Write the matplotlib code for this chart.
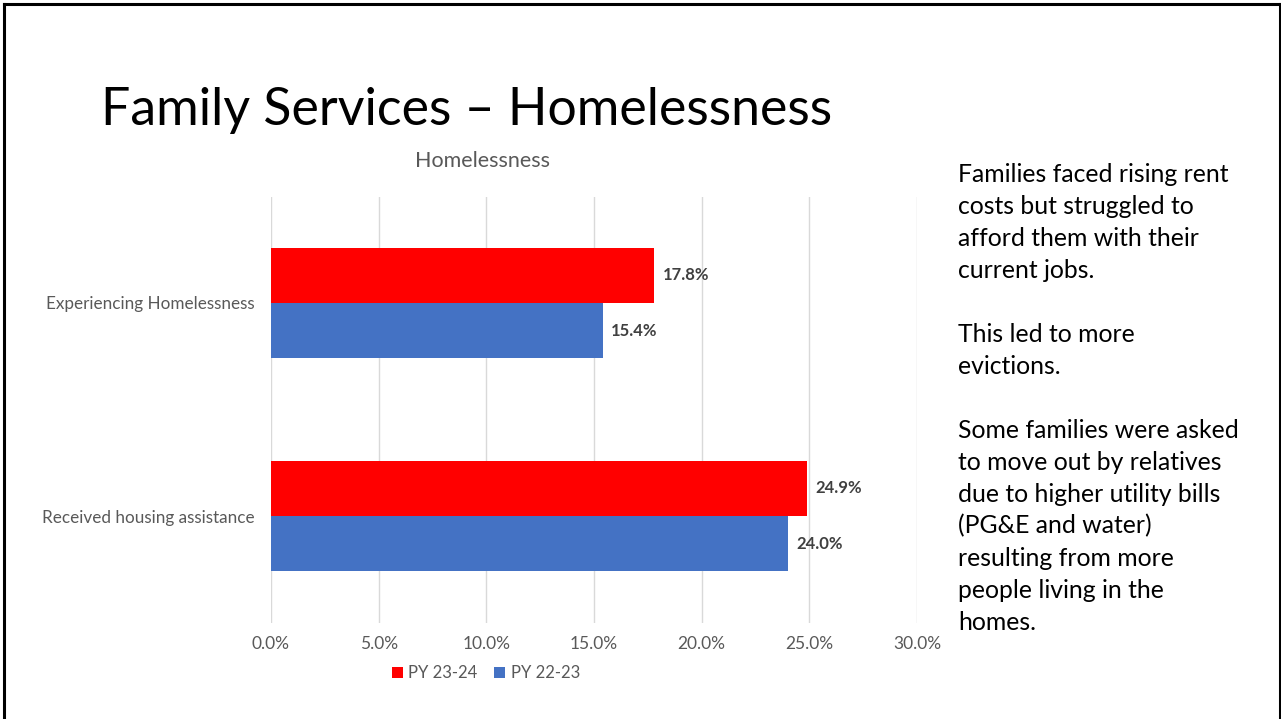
import matplotlib
matplotlib.use("Agg")
import matplotlib.pyplot as plt
from matplotlib.lines import Line2D
from matplotlib.patches import Patch
import numpy as np

categories = ["Received housing assistance", "Experiencing Homelessness"]
series_names = ["PY 23-24", "PY 22-23"]
py_23_24 = [24.9, 17.8]
py_22_23 = [24.0, 15.4]
xticks = [0, 5, 10, 15, 20, 25, 30]
colors = ["#FF0000", "#4472C4"]

slide_title = "Family Services \u2013 Homelessness"
chart_title = "Homelessness"
side_lines = [
    "Families faced rising rent",
    "costs but struggled to",
    "afford them with their",
    "current jobs.",
    "",
    "This led to more",
    "evictions.",
    "",
    "Some families were asked",
    "to move out by relatives",
    "due to higher utility bills",
    "(PG&E and water)",
    "resulting from more",
    "people living in the",
    "homes.",
]

plt.rcParams['font.family'] = ['Lato', 'DejaVu Sans']

W, H = 1281, 719
fig = plt.figure(figsize=(W / 100, H / 100), dpi=100)
fig.patch.set_facecolor("white")

def fx(px):
    return px / W

def fy(py):
    return 1 - py / H

# slide border
fig.add_artist(Line2D([fx(4), fx(4)], [fy(4), 0], transform=fig.transFigure, color="black", lw=2.2))
fig.add_artist(Line2D([fx(4), fx(1279.5)], [fy(4), fy(4)], transform=fig.transFigure, color="black", lw=2.2))
fig.add_artist(Line2D([fx(1279.5), fx(1279.5)], [fy(4), 0], transform=fig.transFigure, color="black", lw=2.2))

ax = fig.add_axes([fx(271), fy(622.5), fx(917) - fx(271), fy(196.5) - fy(622.5)])

y = np.arange(len(categories))
h = 0.26
bars1 = ax.barh(y + h / 2, py_23_24, height=h, color=colors[0], zorder=3)
bars2 = ax.barh(y - h / 2, py_22_23, height=h, color=colors[1], zorder=3)

for bars, vals in ((bars1, py_23_24), (bars2, py_22_23)):
    for b, v in zip(bars, vals):
        ax.annotate(f"{v:.1f}%", (v, b.get_y() + b.get_height() / 2),
                    xytext=(6, 0), textcoords="offset points", ha="left", va="center",
                    fontsize=12, fontweight="bold", color="#404040")

ax.set_xlim(0, 30)
ax.set_ylim(-0.5, 1.5)
ax.set_xticks(xticks)
ax.set_xticklabels([f"{t:.1f}%" for t in xticks], fontsize=12.5, color="#595959")
ax.set_yticks(y)
ax.set_yticklabels(categories, fontsize=12.3, color="#595959")
ax.tick_params(axis="both", length=0)
ax.tick_params(axis="x", pad=10)
ax.tick_params(axis="y", pad=12)
for s in ax.spines.values():
    s.set_visible(False)
ax.grid(axis="x", color="#D9D9D9", lw=1, zorder=0)
ax.set_axisbelow(True)

fig.text(fx(483), fy(161), chart_title, ha="center", va="center", fontsize=15.5, color="#595959")
fig.text(fx(101), fy(110), slide_title, ha="left", va="center", fontsize=37.4, color="black")

for i, line in enumerate(side_lines):
    if line:
        fig.text(fx(958), fy(174 + 32 * i), line, ha="left", va="center", fontsize=17.8, color="black")

handles = [Patch(facecolor=c, edgecolor="none") for c in colors]
fig.legend(handles, series_names, loc="center", bbox_to_anchor=(fx(486), fy(673)), ncol=2,
           frameon=False, fontsize=12, labelcolor="#595959", handlelength=0.65, handleheight=0.65,
           handletextpad=0.35, columnspacing=1.0)

fig.savefig("out.png", dpi=100, facecolor="white")
